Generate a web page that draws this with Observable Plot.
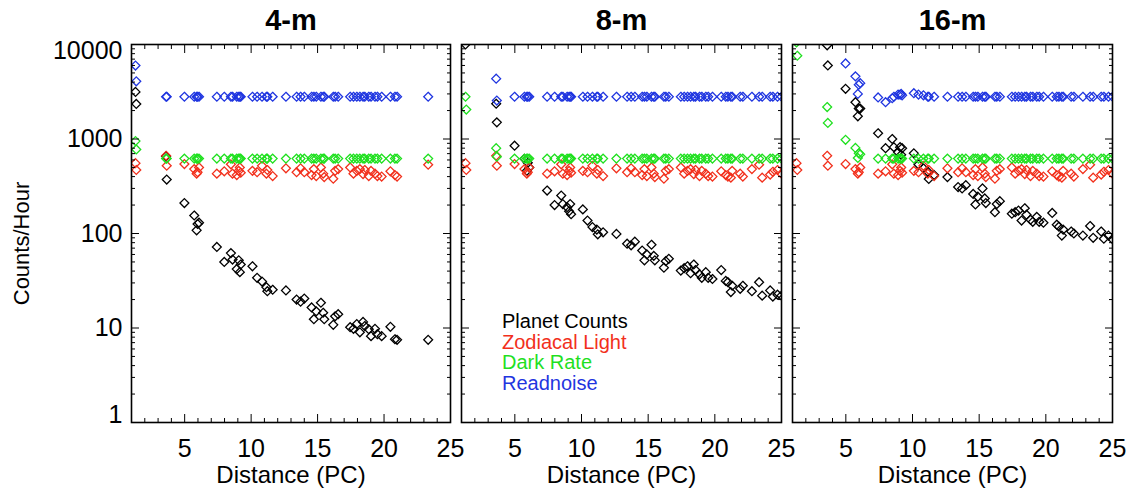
<!DOCTYPE html>
<html>
<head>
<meta charset="utf-8">
<script src="https://cdn.jsdelivr.net/npm/d3@7"></script>
<script src="https://cdn.jsdelivr.net/npm/@observablehq/plot@0.6"></script>
<style>
  body { margin: 0; background: #fff; }
  #root { position: relative; width: 1131px; height: 493px; font-family: "Liberation Sans", Arial, Helvetica, sans-serif; }
  #root svg { position: absolute; top: 0; overflow: visible; }
  .legend { position: absolute; left: 502px; top: 311px; font-size: 20px; line-height: 20.5px; font-family: "Liberation Sans", Arial, sans-serif; }
</style>
</head>
<body>
<div id="root"></div>
<script>
// ---------------- DATA ----------------
const seriesNames = ["Planet Counts", "Zodiacal Light", "Dark Rate", "Readnoise"];
const seriesColors = ["#000000", "#f2301c", "#1fe01f", "#1f35e0"];
const titles = ["4-m", "8-m", "16-m"];
const xTickValues = [5, 10, 15, 20, 25];
const yTickValues = [1, 10, 100, 1000, 10000];

// distance (pc) of each target star
const distance = [1.30,1.36,3.60,3.65,4.98,5.72,5.90,5.97,6.08,7.42,7.98,8.48,8.60,8.92,9.07,9.15,9.22,10.10,10.45,10.82,11.15,11.22,11.62,12.62,13.42,13.72,14.00,14.55,14.72,14.90,15.25,15.42,15.50,16.18,16.32,16.55,17.45,17.70,17.95,18.18,18.42,18.55,18.85,19.02,19.32,19.50,19.82,20.48,20.82,20.98,21.20,21.30,21.90,22.10,22.78,23.32,23.55,24.15,24.35,24.70,25.00];

// zodiacal light (same for all apertures)
const zodiacal = [555,470,665,522,543,480,430,445,500,430,455,540,430,415,460,500,440,460,445,520,430,470,405,490,445,490,445,415,480,405,500,430,395,380,460,480,500,430,460,480,425,470,405,460,430,405,400,455,415,400,390,460,430,400,480,535,390,420,450,470,430];

// 4-m
const planet4m = [3150,2350,655,372,210,155,108,126,130,72,50,62,53,42,52,39,47,45,34,31,27,24.5,25.4,25,20,19,20.5,16.5,12.4,15,18.5,14.5,12.4,10.8,13.3,14,10.2,9.8,11,9.0,11.6,10.5,9.7,8.2,9.8,8.6,8.2,10.3,7.6,7.5,null,null,null,null,null,7.5,null,null,null,null,null];
const dark4m = [950,775,620,620,620,620,620,620,620,620,620,620,620,620,620,620,620,620,620,620,620,620,620,620,620,620,620,620,620,620,620,620,620,620,620,620,620,620,620,620,620,620,620,620,620,620,620,620,620,620,null,null,null,null,null,620,null,null,null,null,null];
const read4m = [5990,4080,2800,2800,2800,2800,2800,2800,2800,2800,2800,2800,2800,2800,2800,2800,2800,2800,2800,2800,2800,2800,2800,2800,2800,2800,2800,2800,2800,2800,2800,2800,2800,2800,2800,2800,2800,2800,2800,2800,2800,2800,2800,2800,2800,2800,2800,2800,2800,2800,null,null,null,null,null,2800,null,null,null,null,null];

// 8-m
const planet8m = [10000,14000,2360,1500,850,617,460,560,500,285,200,252,205,190,172,205,160,180,137,117,110,98,103,99,78,75,82,66,52,60,76,58,52,43.5,51,54,40.5,43,45,38,47,41,37,34,39,34,33,41,31.5,30.5,24,28,26,28,24.5,30.5,22,25,21.5,22.5,22];
const dark8m = [2800,2050,800,650,620,620,620,620,620,620,620,620,620,620,620,620,620,620,620,620,620,620,620,620,620,620,620,620,620,620,620,620,620,620,620,620,620,620,620,620,620,620,620,620,620,620,620,620,620,620,620,620,620,620,620,620,620,620,620,620,620];
const read8m = [16000,12000,4350,2550,2800,2800,2800,2800,2800,2800,2800,2800,2800,2800,2800,2800,2800,2800,2800,2800,2800,2800,2800,2800,2800,2800,2800,2800,2800,2800,2800,2800,2800,2800,2800,2800,2800,2800,2800,2800,2800,2800,2800,2800,2800,2800,2800,2800,2800,2800,2800,2800,2800,2800,2800,2800,2800,2800,2800,2800,2800];

// 16-m
const planet16m = [40000,30000,9800,6000,3400,2450,1740,2100,2100,1150,800,1000,820,725,820,680,800,705,537,490,450,378,415,395,310,300,325,262,203,245,300,235,210,168,205,220,162,168,175,137,185,158,140,133,150,133,130,165,124,118,95,110,105,100,95,120,90,105,88,95,87];
const dark16m = [10500,7600,2180,1480,980,805,630,705,690,620,620,620,620,620,620,620,620,620,620,620,620,620,620,620,620,620,620,620,620,620,620,620,620,620,620,620,620,620,620,620,620,620,620,620,620,620,620,620,620,620,620,620,620,620,620,620,620,620,620,620,620];
const read16m = [60000,45000,20000,14000,6300,4600,3000,3750,3900,2750,2450,2700,2800,2950,2950,3000,2900,3050,2950,2900,2800,2800,2800,2800,2800,2800,2800,2800,2800,2800,2800,2800,2800,2800,2800,2800,2800,2800,2800,2800,2800,2800,2800,2800,2800,2800,2800,2800,2800,2800,2800,2800,2800,2800,2800,2800,2800,2800,2800,2800,2800];

// ---------------- CHART ----------------
function buildRows(planet, dark, read) {
  const rows = [];
  [planet, zodiacal, dark, read].forEach((arr, k) => {
    distance.forEach((d, i) => {
      if (planet[i] != null && arr[i] != null) rows.push({d, v: arr[i], s: seriesNames[k]});
    });
  });
  return rows;
}

const xMinor = d3.range(2, 25).filter(v => !xTickValues.includes(v));
const yMinor = [];
for (const e of [1, 10, 100, 1000]) for (let m = 2; m <= 9; m++) yMinor.push(e * m);
const blank = () => "";

function panel({title, rows, width, marginLeft, marginRight, left, yLabels}) {
  const marks = [
    Plot.dot(rows, {x: "d", y: "v", stroke: "s", symbol: "diamond2", r: 4, strokeWidth: 1.3, fill: "none", clip: true}),
    Plot.frame({stroke: "black", strokeWidth: 1.6}),
    Plot.axisX({anchor: "bottom", ticks: xTickValues, tickSize: -8, tickFormat: blank, label: null}),
    Plot.axisX({anchor: "bottom", ticks: xMinor, tickSize: -4, tickFormat: blank, label: null}),
    Plot.axisX({anchor: "top", ticks: xTickValues, tickSize: -8, tickFormat: blank, label: null}),
    Plot.axisX({anchor: "top", ticks: xMinor, tickSize: -4, tickFormat: blank, label: null}),
    Plot.axisY({anchor: "left", ticks: yTickValues, tickSize: -8, tickFormat: blank, label: null}),
    Plot.axisY({anchor: "left", ticks: yMinor, tickSize: -4, tickFormat: blank, label: null}),
    Plot.axisY({anchor: "right", ticks: yTickValues, tickSize: -8, tickFormat: blank, label: null}),
    Plot.axisY({anchor: "right", ticks: yMinor, tickSize: -4, tickFormat: blank, label: null}),
    Plot.axisX({anchor: "bottom", ticks: xTickValues, tickSize: 0, tickPadding: 17, fontSize: 25, label: null}),
    Plot.text([title], {frameAnchor: "top", lineAnchor: "middle", dy: -24, fontSize: 29, fontWeight: "bold"}),
    Plot.text(["Distance (PC)"], {frameAnchor: "bottom", lineAnchor: "middle", dy: 53, fontSize: 24})
  ];
  if (yLabels) {
    marks.push(
      Plot.axisY({anchor: "left", ticks: yTickValues.slice(1, 4), tickSize: 0, tickPadding: 9, fontSize: 25, tickFormat: d => String(d), label: null}),
      Plot.axisY({anchor: "left", ticks: yTickValues.slice(4), tickSize: 0, tickPadding: 9, fontSize: 25, dy: 6, tickFormat: d => String(d), label: null}),
      Plot.axisY({anchor: "left", ticks: yTickValues.slice(0, 1), tickSize: 0, tickPadding: 9, fontSize: 25, dy: -8, tickFormat: d => String(d), label: null}),
      Plot.text(["Counts/Hour"], {frameAnchor: "left", textAnchor: "middle", dx: -110, dy: 10, rotate: -90, fontSize: 22})
    );
  }
  const svg = Plot.plot({
    width, height: 493,
    marginLeft, marginRight, marginTop: 44, marginBottom: 71,
    x: {domain: [1, 25]},
    y: {type: "log", domain: [1, 10000]},
    color: {domain: seriesNames, range: seriesColors},
    style: {fontFamily: '"Liberation Sans", Arial, Helvetica, sans-serif', background: "transparent", overflow: "visible", color: "black"},
    marks
  });
  svg.style.left = left + "px";
  return svg;
}

const root = document.getElementById("root");
root.appendChild(panel({title: titles[0], rows: buildRows(planet4m, dark4m, read4m), width: 455, marginLeft: 131, marginRight: 5, left: 0, yLabels: true}));
root.appendChild(panel({title: titles[1], rows: buildRows(planet8m, dark8m, read8m), width: 331, marginLeft: 6, marginRight: 5, left: 455, yLabels: false}));
root.appendChild(panel({title: titles[2], rows: buildRows(planet16m, dark16m, read16m), width: 340, marginLeft: 6, marginRight: 14, left: 786, yLabels: false}));

const legend = document.createElement("div");
legend.className = "legend";
seriesNames.forEach((n, i) => {
  const line = document.createElement("div");
  line.textContent = n;
  line.style.color = seriesColors[i];
  legend.appendChild(line);
});
root.appendChild(legend);
</script>
</body>
</html>
